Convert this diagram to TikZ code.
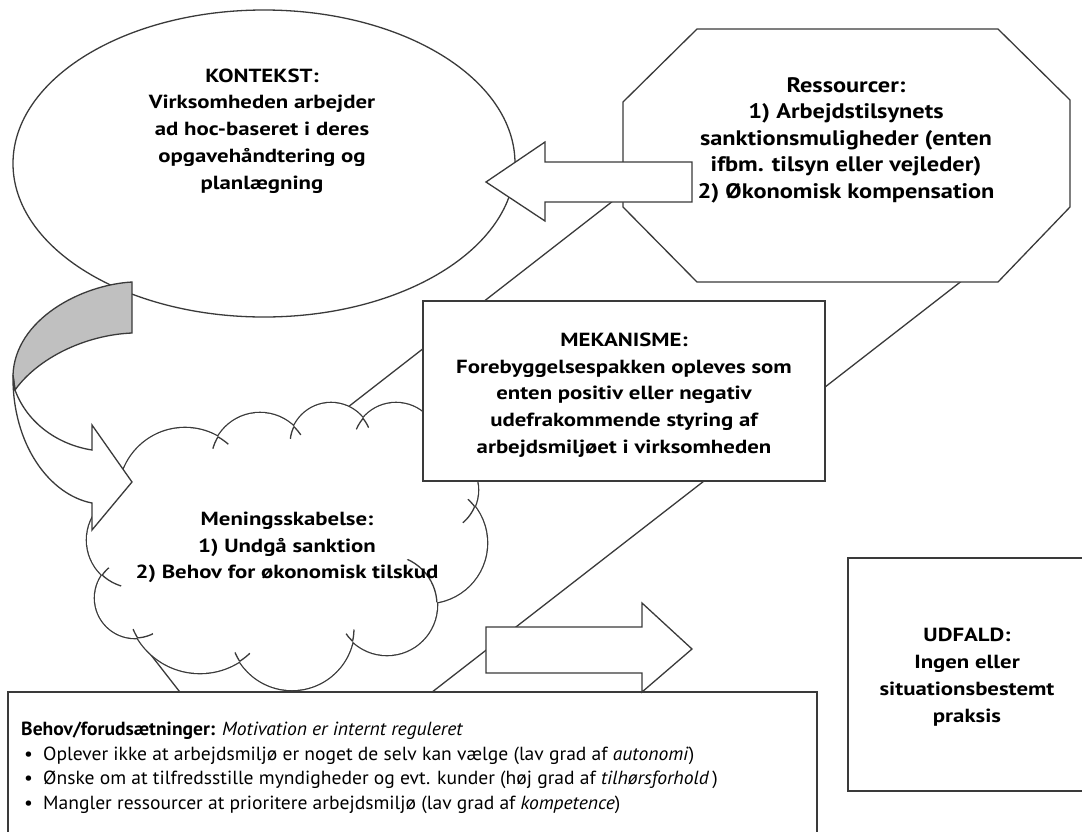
\documentclass[tikz,border=0pt]{standalone}
\usepackage{fontspec}
\setmainfont{PT Sans}
\newfontfamily\mainf[FakeStretch=1.2]{PT Sans}
\newfontfamily\octf[FakeStretch=1.16]{PT Sans}
\newfontfamily\botf[FakeStretch=1.03]{PT Sans}
\definecolor{linec}{HTML}{3A3A3A}
\definecolor{bandgray}{HTML}{C0C0C0}
\tikzset{
  shp/.style={draw=linec, line width=1.3pt, fill=white, line join=miter},
  maintxt/.style={align=center, font=\mainf\bfseries\fontsize{19}{26.8}\selectfont, inner sep=0pt},
  octtxt/.style={align=center, font=\octf\bfseries\fontsize{21}{26.5}\selectfont, inner sep=0pt},
}
% tail of cloud bump: clip to circle i and small disk around junction, draw circle j
\newcommand\cloudtail[9]{%
  \begin{scope}
    \clip (#1,#2) circle[radius=#3pt];
    \clip (#4,#5) circle[radius=#6pt];
    \draw[linec, line width=1.3pt] (#7,#8) circle[radius=#9pt];
  \end{scope}}
\newcommand\bul{\makebox[22pt][l]{\hspace{3pt}•}}
\begin{document}
\begin{tikzpicture}[x=1pt,y=-1pt]
\useasboundingbox (0,0) rectangle (1082,831);
% background band
\draw[shp] (105,596) coordinate (b1) -- (820,40) coordinate (b2) -- (990,259) coordinate (b3) -- (275,814) coordinate (b4) -- cycle;
% context ellipse
\draw[shp] (264,163.5) coordinate (ctx) ellipse [x radius=251pt, y radius=153.5pt];
% resources octagon
\draw[shp] (697,29) -- (998,29) -- (1070,100) -- (1070,207) -- (998,282) -- (697,282) -- (623,207) -- (623,102) -- cycle;
% cloud
\def\cloudcircles{(135,540) circle[radius=48pt] (185,494) circle[radius=66pt] (260,462) circle[radius=49pt] (331,444) circle[radius=41pt] (396,446) circle[radius=43pt] (435,490) circle[radius=43pt] (427,543) circle[radius=60pt] (387,605) circle[radius=50pt] (292,628) circle[radius=62pt] (200,600) circle[radius=73pt] (135,598) circle[radius=40pt]}
\draw[linec, line width=2.6pt] \cloudcircles;
\fill[white] \cloudcircles;
\fill[white] (135,540) -- (185,494) -- (260,462) -- (331,444) -- (396,446) -- (435,490) -- (427,543) -- (387,605) -- (292,628) -- (200,600) -- (135,598) -- cycle;
% tails at the junctions
\cloudtail{185}{494}{66}{217.9}{436.8}{13}{260}{462}{49}
\cloudtail{260}{462}{49}{217.9}{436.8}{13}{185}{494}{66}
\cloudtail{260}{462}{49}{293.9}{426.5}{13}{331}{444}{41}
\cloudtail{331}{444}{41}{293.9}{426.5}{11}{260}{462}{49}
\cloudtail{331}{444}{41}{363}{418.4}{13}{396}{446}{43}
\cloudtail{396}{446}{43}{363}{418.4}{11}{331}{444}{41}
\cloudtail{427}{543}{60}{474.6}{506.6}{20}{435}{490}{43}
\cloudtail{435}{490}{43}{474.6}{506.6}{10}{427}{543}{60}
\cloudtail{427}{543}{60}{437}{602.2}{52}{387}{605}{50}
\cloudtail{387}{605}{50}{352.6}{641.2}{12}{292}{628}{62}
\cloudtail{292}{628}{62}{352.6}{641.2}{10}{387}{605}{50}
\cloudtail{292}{628}{62}{239.7}{661.1}{13}{200}{600}{73}
\cloudtail{200}{600}{73}{239.7}{661.1}{10}{292}{628}{62}
\cloudtail{200}{600}{73}{137.6}{637.9}{16}{135}{598}{40}
\cloudtail{135}{598}{40}{137.6}{637.9}{10}{200}{600}{73}
\cloudtail{135}{598}{40}{102.2}{575.1}{22}{135}{540}{48}
\cloudtail{135}{540}{48}{102.2}{575.1}{10}{135}{598}{40}
% mechanism box
\draw[shp] (423,301) rectangle (825,481);
% needs box and outcome box
\draw[shp] (8,692) rectangle (817,845);
\draw[shp] (848,558) rectangle (1095,791);
% curved arrow
\draw[shp, fill=bandgray] (132,282) .. controls (80,285) and (15,320) .. (13,375) -- (15,390) .. controls (38,358) and (85,335) .. (132,333) -- cycle;
\draw[shp] (15,390) .. controls (28,425) and (60,445) .. (92,450) -- (92,425) -- (132,482) coordinate (ctip) -- (92,530) -- (92,503) .. controls (50,495) and (12,445) .. (13,375) -- cycle;
% block arrows
\draw[shp] (486,182) coordinate (ltip) -- (545,142) -- (545,162) -- (692,162) -- (692,202) -- (545,202) -- (545,221) -- cycle;
\draw[shp] (486,627) -- (642,627) -- (642,603) -- (692,649) coordinate (rtip) -- (642,692) -- (642,673) -- (486,673) -- cycle;
% texts
\node[maintxt] (kontekst) at (262,131) {KONTEKST:\\Virksomheden arbejder\\ad hoc-baseret i deres\\opgavehåndtering og\\planlægning};
\node[octtxt] (ress) at (846,140) {Ressourcer:\\1) Arbejdstilsynets\\sanktionsmuligheder (enten\\ifbm. tilsyn eller vejleder)\\2) Økonomisk kompensation};
\node[maintxt] (mek) at (624,395) {MEKANISME:\\Forebyggelsespakken opleves som\\enten positiv eller negativ\\udefrakommende styring af\\arbejdsmiljøet i virksomheden};
\node[maintxt] (men) at (287,547.5) {Meningsskabelse:\\1) Undgå sanktion\\2) Behov for økonomisk tilskud};
\node[maintxt] (udf) at (967,677) {UDFALD:\\Ingen eller\\situationsbestemt\\praksis};
\node[anchor=north west, align=left, inner sep=0pt, font=\botf\fontsize{19}{24.5}\selectfont] (behov) at (21,722) {{\bfseries Behov/forudsætninger:} \textit{Motivation er internt reguleret}\\
\bul Oplever ikke at arbejdsmiljø er noget de selv kan vælge (lav grad af \textit{autonomi})\\
\bul Ønske om at tilfredsstille myndigheder og evt. kunder (høj grad af \textit{tilhørsforhold}\,)\\
\bul Mangler ressourcer at prioritere arbejdsmiljø (lav grad af \textit{kompetence})};
\end{tikzpicture}
\end{document}
